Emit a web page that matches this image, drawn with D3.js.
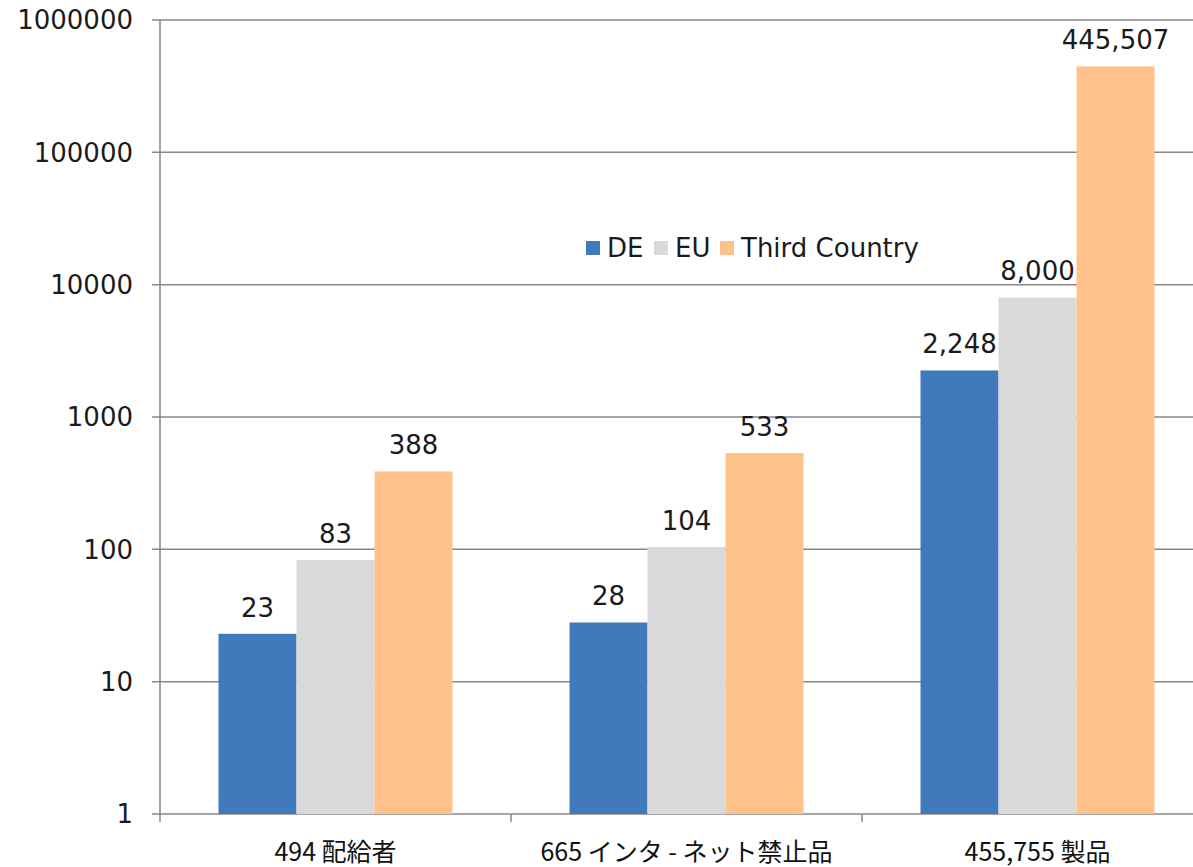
<!DOCTYPE html>
<html>
<head>
<meta charset="utf-8">
<script src="https://cdn.jsdelivr.net/npm/d3@7"></script>
<style>
  body { margin: 0; background: #fff; }
  svg { display: block; }
  .tick-label { font-family: "DejaVu Sans", Verdana, sans-serif; font-size: 26px; fill: #1a1a1a; }
  .cat-label { font-family: "Noto Sans CJK JP", sans-serif; font-size: 25px; fill: #111; }
  .value-label { font-family: "DejaVu Sans", Verdana, sans-serif; font-size: 26px; fill: #1a1a1a; }
  .legend-label { font-family: "DejaVu Sans", Verdana, sans-serif; font-size: 26px; fill: #1a1a1a; }
</style>
</head>
<body>
<div id="chart"></div>
<script>
// Chart data
const categories = ["494 配給者", "665 インタ - ネット禁止品", "455,755 製品"];
const seriesNames = ["DE", "EU", "Third Country"];
const deValues = [23, 28, 2248];
const euValues = [83, 104, 8000];
const thirdValues = [388, 533, 445507];
const yTicks = [1, 10, 100, 1000, 10000, 100000, 1000000];
const colors = ["#4179bd", "#d9d9d9", "#ffc28a"];

const width = 1193, height = 867;
const plot = { left: 160, top: 20, bottom: 814, right: 1213 };

const svg = d3.select("#chart")
    .append("svg")
    .attr("width", width)
    .attr("height", height);

const x = d3.scaleBand()
    .domain(categories)
    .range([plot.left, plot.right])
    .padding(0);

const xInner = d3.scaleBand()
    .domain(seriesNames)
    .range([0, x.bandwidth()])
    .paddingInner(0)
    .paddingOuter(0.75);

const y = d3.scaleLog()
    .domain([1, 1000000])
    .range([plot.bottom, plot.top]);

// Gridlines + y ticks
const gridColor = "#878787";
svg.append("g")
    .selectAll("line")
    .data(yTicks)
    .enter().append("line")
    .attr("x1", plot.left - 8)
    .attr("x2", width)
    .attr("y1", d => y(d))
    .attr("y2", d => y(d))
    .attr("stroke", gridColor)
    .attr("stroke-width", 1.5);

svg.append("g")
    .selectAll("text")
    .data(yTicks)
    .enter().append("text")
    .attr("class", "tick-label")
    .attr("x", plot.left - 27)
    .attr("y", d => y(d))
    .attr("dy", "0.36em")
    .attr("text-anchor", "end")
    .text(d => d);

// Bars
const table = categories.map((c, i) => ({
    category: c,
    values: [deValues[i], euValues[i], thirdValues[i]]
}));

const groups = svg.append("g")
    .selectAll("g")
    .data(table)
    .enter().append("g")
    .attr("transform", d => `translate(${x(d.category)},0)`);

groups.selectAll("rect")
    .data(d => d.values.map((v, j) => ({ series: seriesNames[j], value: v, j })))
    .enter().append("rect")
    .attr("x", d => xInner(d.series))
    .attr("width", xInner.bandwidth())
    .attr("y", d => y(d.value))
    .attr("height", d => plot.bottom - y(d.value))
    .attr("fill", d => colors[d.j]);

groups.selectAll("text")
    .data(d => d.values.map((v, j) => ({ series: seriesNames[j], value: v })))
    .enter().append("text")
    .attr("class", "value-label")
    .attr("x", d => xInner(d.series) + xInner.bandwidth() / 2)
    .attr("y", d => y(d.value) - 17)
    .attr("text-anchor", "middle")
    .text(d => d3.format(",")(d.value));

// Axes lines
svg.append("line")
    .attr("x1", plot.left).attr("x2", plot.left)
    .attr("y1", plot.top).attr("y2", plot.bottom + 8)
    .attr("stroke", gridColor).attr("stroke-width", 1.5);

svg.append("g")
    .selectAll("line")
    .data(categories.slice(1))
    .enter().append("line")
    .attr("x1", d => x(d)).attr("x2", d => x(d))
    .attr("y1", plot.bottom).attr("y2", plot.bottom + 8)
    .attr("stroke", gridColor).attr("stroke-width", 1.5);

// Category labels
svg.append("g")
    .selectAll("text")
    .data(categories)
    .enter().append("text")
    .attr("class", "cat-label")
    .attr("x", d => x(d) + x.bandwidth() / 2)
    .attr("y", 861)
    .attr("text-anchor", "middle")
    .text(d => d);

// Legend
const legend = svg.append("g").attr("transform", "translate(586,241)");
const legendX = [0, 68, 134];
seriesNames.forEach((s, i) => {
    legend.append("rect")
        .attr("x", legendX[i]).attr("y", 0)
        .attr("width", 14).attr("height", 14)
        .attr("fill", colors[i]);
    legend.append("text")
        .attr("class", "legend-label")
        .attr("x", legendX[i] + 21)
        .attr("y", 7)
        .attr("dy", "0.36em")
        .text(s);
});
</script>
</body>
</html>
